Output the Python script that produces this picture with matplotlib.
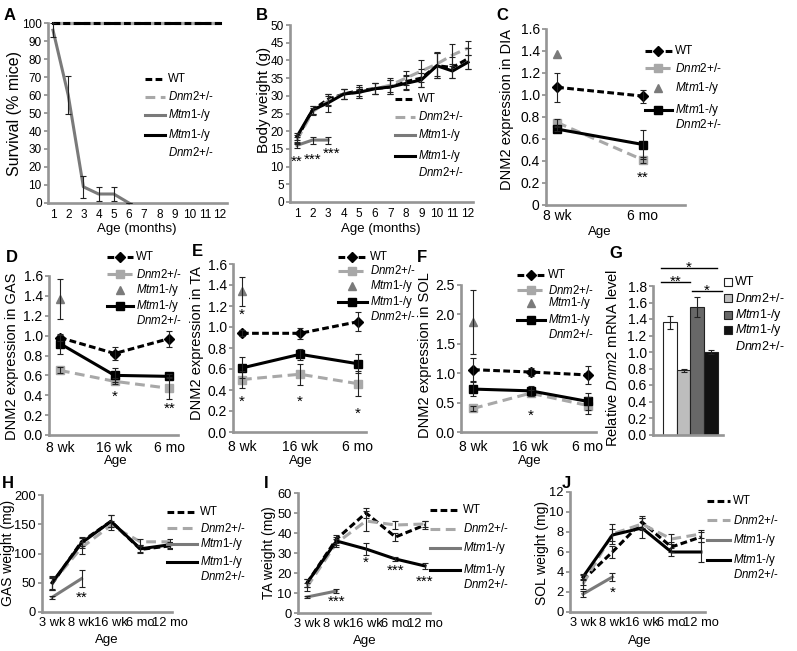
import matplotlib
matplotlib.use('Agg')
import matplotlib.pyplot as plt
from matplotlib.patches import Rectangle

plt.rcParams['font.family'] = 'Liberation Sans'
plt.rcParams['mathtext.fontset'] = 'custom'
plt.rcParams['mathtext.rm'] = 'Liberation Sans'
plt.rcParams['mathtext.it'] = 'Liberation Sans:italic'

# ---- data ----
# A: survival (%)
months = list(range(1, 13))
surv_wt = [100] * 12
surv_dnm2 = [100] * 12
surv_dko = [100] * 12
surv_mtm1 = [96, 60, 9, 5, 5, 0]
surv_mtm1_err = [4, 10.5, 6, 4, 4, 0]

# B: body weight (g)
bw_wt = [18, 26, 29, 30.5, 31.5, 32, 32.5, 34, 35, 38.5, 38, 40.5]
bw_wt_err = [1, 1, 1.5, 1.5, 1.5, 1.5, 2, 2, 2.5, 3.5, 3, 3]
bw_dnm2 = [17.5, 25.5, 28.5, 30.5, 31, 32, 33, 35, 37, 39, 41.5, 43.5]
bw_dnm2_err = [1, 1, 1.5, 1.5, 1.5, 1.5, 2, 2, 3, 3.5, 3, 2]
bw_mtm1 = [16, 17.5, 17.5]
bw_mtm1_err = [0.8, 1, 1]
bw_dko = [18.5, 26, 28, 30.5, 31, 32, 32.5, 33.5, 34.5, 38.5, 37, 39.5]
bw_dko_err = [1, 1, 2.5, 1.5, 1.5, 1.5, 2, 2, 2, 3.5, 2, 2]

# C: DNM2 expression in DIA
ages_c = ['8 wk', '6 mo']
dia_wt = [1.07, 0.99]
dia_wt_err = [0.13, 0.06]
dia_dnm2 = [0.75, 0.41]
dia_dnm2_err = [0.03, 0.03]
dia_mtm1 = [1.37]
dia_dko = [0.69, 0.55]
dia_dko_err = [0.02, 0.13]

# D, E, F: DNM2 expression in GAS, TA, SOL
ages_def = ['8 wk', '16 wk', '6 mo']
gas_wt = [0.98, 0.82, 0.97]
gas_wt_err = [0.03, 0.07, 0.08]
gas_dnm2 = [0.65, 0.54, 0.47]
gas_dnm2_err = [0.03, 0.03, 0.11]
gas_mtm1 = [1.37]
gas_mtm1_err = [0.2]
gas_dko = [0.92, 0.60, 0.59]
gas_dko_err = [0.1, 0.07, 0.02]

ta_wt = [0.94, 0.94, 1.05]
ta_wt_err = [0.03, 0.05, 0.09]
ta_dnm2 = [0.50, 0.55, 0.46]
ta_dnm2_err = [0.08, 0.1, 0.12]
ta_mtm1 = [1.34]
ta_mtm1_err = [0.14]
ta_dko = [0.61, 0.74, 0.65]
ta_dko_err = [0.1, 0.05, 0.09]

sol_wt = [1.06, 1.02, 0.97]
sol_wt_err = [0.2, 0.07, 0.16]
sol_dnm2 = [0.40, 0.66, 0.45]
sol_dnm2_err = [0.05, 0.05, 0.15]
sol_mtm1 = [1.87]
sol_mtm1_err = [0.55]
sol_dko = [0.73, 0.70, 0.52]
sol_dko_err = [0.12, 0.08, 0.15]

# G: relative Dnm2 mRNA
g_values = [1.36, 0.78, 1.55, 1.0]
g_err = [0.08, 0.02, 0.12, 0.03]
g_colors = ['white', '#bdbdbd', '#676767', '#111111']

# H, I, J: muscle weights (mg)
ages_w = ['3 wk', '8 wk', '16 wk', '6 mo', '12 mo']
gasw_wt = [48, 120, 155, 107, 113]
gasw_wt_err = [10, 8, 10, 6, 5]
gasw_dnm2 = [50, 110, 148, 120, 120]
gasw_dnm2_err = [10, 10, 8, 5, 5]
gasw_mtm1 = [25, 57]
gasw_mtm1_err = [3, 15]
gasw_dko = [50, 118, 155, 108, 115]
gasw_dko_err = [12, 8, 10, 6, 5]

taw_wt = [15, 37, 50, 38, 44]
taw_wt_err = [2, 2, 2.5, 2, 2]
taw_dnm2 = [13, 35, 46, 44, 44.5]
taw_dnm2_err = [2, 2, 5, 2, 1.5]
taw_mtm1 = [8, 11]
taw_mtm1_err = [0.5, 1]
taw_dko = [15, 36, 32, 27, 23.5]
taw_dko_err = [2, 2, 3, 1, 1.5]

solw_wt = [3.2, 6, 9, 6.5, 7.5]
solw_wt_err = [0.5, 0.6, 0.6, 0.5, 0.5]
solw_dnm2 = [2.8, 7.8, 8.8, 7.3, 7.8]
solw_dnm2_err = [0.5, 1, 0.6, 0.5, 0.4]
solw_mtm1 = [1.8, 3.5]
solw_mtm1_err = [0.3, 0.4]
solw_dko = [3.5, 7.7, 8.4, 6, 6]
solw_dko_err = [0.3, 0.6, 1, 0.4, 1]

# ---- styles ----
W, H = 797, 651
GRAY = '#959595'
LW = 2.2
STAR_FS = 11
WT_LINE = dict(color='black', lw=LW, dashes=(2.2, 1.1))
DNM2_LINE = dict(color='#a8a8a8', lw=LW, dashes=(3.2, 1.8))
MTM1_LINE = dict(color='#7a7a7a', lw=LW)
DKO_LINE = dict(color='black', lw=LW)
WT_MK = dict(marker='D', ms=5, mfc='black', mec='black')
DNM2_MK = dict(marker='s', ms=5.5, mfc='#a8a8a8', mec='#a8a8a8')
MTM1_MK = dict(marker='^', ms=6, mfc='#7a7a7a', mec='#7a7a7a')
DKO_MK = dict(marker='s', ms=5.5, mfc='black', mec='black')
LBL_DNM2 = r'$\mathit{Dnm2}$+/-'
LBL_MTM1 = r'$\mathit{Mtm}$1-/y'


def box(l, t, r, b):
    return [l / W, 1 - b / H, (r - l) / W, (b - t) / H]


def style(ax, ylim, yticks, fmt, xlim, fs, xpad=4):
    ax.set_facecolor('none')
    ax.spines[['top', 'right']].set_visible(False)
    for s in ['left', 'bottom']:
        ax.spines[s].set_color(GRAY)
        ax.spines[s].set_linewidth(1.9)
    ax.tick_params(axis='y', length=3, width=1.3, color=GRAY, labelsize=fs, pad=1.5)
    ax.tick_params(axis='x', length=0, labelsize=fs, pad=xpad)
    ax.set_ylim(*ylim)
    ax.set_yticks(yticks)
    ax.set_yticklabels([fmt % v if fmt else ('%g' % v) for v in yticks])
    ax.set_xlim(*xlim)


def star(ax, x, y, s):
    # star glyph centred on (x, y)
    ax.annotate(s, (x, y), xytext=(0, -6.3), textcoords='offset points',
                ha='center', va='baseline', fontsize=STAR_FS, annotation_clip=False)


def eb(ax, x, y, e, color='#222222'):
    ax.errorbar(x, y, yerr=e, fmt='none', ecolor=color, elinewidth=0.8,
                capsize=2, capthick=0.8, zorder=4)


def series(ax, x, y, e, line, mk=None):
    kw = dict(line)
    if mk:
        kw.update(mk)
    ax.plot(x, y, clip_on=False, zorder=3, **kw)
    if e is not None:
        eb(ax, x, y, e)


fig = plt.figure(figsize=(W / 100, H / 100), dpi=100)

# A
ax = fig.add_axes(box(48, 23, 227, 203))
series(ax, months, surv_dko, None, DKO_LINE)
series(ax, months, surv_dnm2, None, DNM2_LINE)
series(ax, months, surv_wt, None, WT_LINE)
series(ax, months[:len(surv_mtm1)], surv_mtm1, surv_mtm1_err, MTM1_LINE)
style(ax, (0, 100), range(0, 101, 10), None, (0.67, 12.46), 8.5)
ax.set_xticks(months)
ax.set_xticklabels([str(m) for m in months])

# B
ax = fig.add_axes(box(290, 25, 473, 202))
series(ax, months, bw_wt, bw_wt_err, WT_LINE)
series(ax, months, bw_dnm2, bw_dnm2_err, DNM2_LINE)
series(ax, months[:3], bw_mtm1, bw_mtm1_err, MTM1_LINE)
series(ax, months, bw_dko, bw_dko_err, DKO_LINE)
style(ax, (0, 50), range(0, 51, 5), None, (0.55, 12.32), 8.5)
ax.set_xticks(months)
ax.set_xticklabels([str(m) for m in months])
for x, y, s in [(1, 12.7, '**'), (2, 13.3, '***'), (3.2, 15, '***')]:
    star(ax, x, y, s)


def expr_panel(rect, xlim, ylim, yticks, fmt, ages, wt, wte, dn, dne, mt, mte, dk, dke, stars,
               xpad=6):
    ax = fig.add_axes(box(*rect))
    x = list(range(len(ages)))
    series(ax, x, wt, wte, WT_LINE, WT_MK)
    series(ax, x, dn, dne, DNM2_LINE, DNM2_MK)
    ax.plot([0], mt, ls='none', clip_on=False, zorder=3, **MTM1_MK)
    if mte is not None:
        eb(ax, [0], mt, mte)
    series(ax, x, dk, dke, DKO_LINE, DKO_MK)
    style(ax, ylim, yticks, fmt, xlim, 10, xpad)
    ax.set_xticks(x)
    ax.set_xticklabels(ages)
    for sx, sy, s in stars:
        star(ax, sx, sy, s)
    return ax


ticks16 = [i * 0.2 for i in range(9)]
ax = expr_panel((546, 29, 685, 205), (-0.13, 1.49), (0, 1.6), ticks16, None, ages_c,
                dia_wt, dia_wt_err, dia_dnm2, dia_dnm2_err, dia_mtm1, None,
                dia_dko, dia_dko_err, [(1, 0.29, '**')], xpad=3)
ax.set_yticklabels(['0'] + ['%.1f' % v for v in ticks16[1:]])
expr_panel((49, 276, 178, 435), (-0.2, 2.16), (0, 1.6), ticks16, '%.1f', ages_def,
           gas_wt, gas_wt_err, gas_dnm2, gas_dnm2_err, gas_mtm1, gas_mtm1_err,
           gas_dko, gas_dko_err, [(1, 0.43, '*'), (2, 0.31, '**')], xpad=4)
expr_panel((233, 264, 366, 432), (-0.155, 2.14), (0, 1.6), ticks16, '%.1f', ages_def,
           ta_wt, ta_wt_err, ta_dnm2, ta_dnm2_err, ta_mtm1, ta_mtm1_err,
           ta_dko, ta_dko_err, [(0, 1.16, '*'), (0, 0.33, '*'), (1, 0.33, '*'), (2, 0.22, '*')],
           xpad=6)
expr_panel((461, 285, 596, 432), (-0.21, 2.14), (0, 2.5), [0, 0.5, 1.0, 1.5, 2.0, 2.5], '%.1f',
           ages_def, sol_wt, sol_wt_err, sol_dnm2, sol_dnm2_err, sol_mtm1, sol_mtm1_err,
           sol_dko, sol_dko_err, [(1, 0.35, '*')], xpad=6)

# G
ax = fig.add_axes(box(653, 286, 723, 434.5))
ax.bar(range(4), g_values, width=1.0, color=g_colors, edgecolor='#222222', linewidth=0.8)
eb(ax, range(4), g_values, g_err)
style(ax, (0, 1.8), [i * 0.2 for i in range(10)], '%.1f', (-1.25, 3.9), 10)
ax.set_xticks([])


def weight_panel(rect, xlim, ylim, yticks, wt, wte, dn, dne, mt, mte, dk, dke, stars):
    ax = fig.add_axes(box(*rect))
    x = list(range(len(ages_w)))
    series(ax, x, wt, wte, WT_LINE)
    series(ax, x, dn, dne, DNM2_LINE)
    series(ax, x[:2], mt, mte, MTM1_LINE)
    series(ax, x, dk, dke, DKO_LINE)
    style(ax, ylim, yticks, None, xlim, 9.3, 3.5)
    ax.set_xticks(x)
    ax.set_xticklabels(ages_w)
    for sx, sy, s in stars:
        star(ax, sx, sy, s)


weight_panel((42, 495, 172, 612), (-0.34, 4.07), (0, 200), range(0, 201, 50),
             gasw_wt, gasw_wt_err, gasw_dnm2, gasw_dnm2_err, gasw_mtm1, gasw_mtm1_err,
             gasw_dko, gasw_dko_err, [(1, 33, '**')])
weight_panel((298, 493, 430, 613), (-0.305, 4.17), (0, 60), range(0, 61, 10),
             taw_wt, taw_wt_err, taw_dnm2, taw_dnm2_err, taw_mtm1, taw_mtm1_err,
             taw_dko, taw_dko_err, [(1, 8, '***'), (2, 27.5, '*'), (3, 23.5, '***'), (4, 18, '***')])
weight_panel((570, 492, 705, 612), (-0.44, 4.14), (0, 12), range(0, 13, 2),
             solw_wt, solw_wt_err, solw_dnm2, solw_dnm2_err, solw_mtm1, solw_mtm1_err,
             solw_dko, solw_dko_err, [(1, 2.4, '*')])

# ---- overlay for labels, legends, panel letters ----
ov = fig.add_axes([0, 0, 1, 1])
ov.set_xlim(0, W)
ov.set_ylim(H, 0)
ov.axis('off')
ov.set_facecolor('none')


def legend(x0, x1, ys, fs, markers=False):
    specs = [(WT_LINE, WT_MK, ['WT']), (DNM2_LINE, DNM2_MK, [LBL_DNM2]),
             (MTM1_LINE, MTM1_MK, [LBL_MTM1]), (DKO_LINE, DKO_MK, [LBL_MTM1, LBL_DNM2])]
    rows = [[ys[0]], [ys[1]], [ys[2]], [ys[3], ys[4]]]
    for (ln, mk, labels), yy in zip(specs, rows):
        y = yy[0]
        if markers and ln is MTM1_LINE:
            ov.plot([(x0 + x1) / 2], [y], ls='none', **mk)
        else:
            ov.plot([x0, x1], [y, y], **ln)
            if markers:
                ov.plot([(x0 + x1) / 2], [y], ls='none', **mk)
        for lab, ty in zip(labels, yy):
            ov.text(x1 + 3, ty, lab, fontsize=fs, va='center', ha='left')


legend(145, 165, [79, 97, 115, 135, 153], 8.3)
legend(395, 415, [99, 117, 135, 156, 173], 8.3)
legend(645, 672, [51, 68, 88, 110, 125], 8.5, markers=True)
legend(107, 133, [257, 274, 290, 306, 320], 8.3, markers=True)
legend(338, 367, [257, 271, 286, 302, 316], 8.3, markers=True)
legend(517, 545, [275, 290, 303, 320, 334], 8.3, markers=True)
legend(167, 197, [512, 528, 544, 562, 577], 8.3)
legend(430, 460, [510, 529, 548, 570, 585], 8.3)
legend(707, 730, [501, 520, 540, 560, 575], 8.3)

# G legend and significance bars
for c, y in zip(g_colors, [282, 298, 315, 330]):
    ov.add_patch(Rectangle((724, y - 4), 8, 8, facecolor=c, edgecolor='#222222', lw=0.8))
for lab, y in zip(['WT', LBL_DNM2, LBL_MTM1, LBL_MTM1, LBL_DNM2], [282, 298, 315, 330, 346]):
    ov.text(735, y, lab, fontsize=9, va='center', ha='left')
for xa, xb, y, s in [(661, 717, 268, '*'), (661, 690, 282, '**'), (692, 722, 291, '*')]:
    ov.plot([xa, xb], [y, y], color='black', lw=1)
    star(ov, (xa + xb) / 2, y - 5, s)

# axis titles
ylabels = [(15, 113, 'Survival (% mice)', 11.5), (264, 100, 'Body weight (g)', 11),
           (507, 110, 'DNM2 expression in DIA', 10.5), (12, 356, 'DNM2 expression in GAS', 10.5),
           (197, 343, 'DNM2 expression in TA', 10.5), (425, 355, 'DNM2 expression in SOL', 10.5),
           (613, 358, r'Relative $\mathit{Dnm2}$ mRNA level', 10.5),
           (8, 553, 'GAS weight (mg)', 10), (269, 553, 'TA weight (mg)', 10),
           (542, 553, 'SOL weight (mg)', 10)]
for x, y, s, fs in ylabels:
    ov.text(x, y, s, rotation=90, fontsize=fs, ha='center', va='center')
xlabels = [(137, 229, 'Age (months)'), (381, 229, 'Age (months)'), (600, 232, 'Age'),
           (116, 461, 'Age'), (301, 461, 'Age'), (530, 461, 'Age'),
           (107, 640, 'Age'), (365, 641, 'Age'), (640, 641, 'Age')]
for x, y, s in xlabels:
    ov.text(x, y, s, fontsize=9.5, ha='center', va='center')

letters = [(4, 15, 'A'), (256, 15, 'B'), (496, 15, 'C'), (6, 258, 'D'), (192, 252, 'E'),
           (417, 258, 'F'), (609, 253, 'G'), (2, 483, 'H'), (264, 483, 'I'), (562, 483, 'J')]
for x, y, s in letters:
    ov.text(x, y, s, fontsize=12, fontweight='bold', ha='left', va='center')

fig.savefig('out.png', dpi=100)
